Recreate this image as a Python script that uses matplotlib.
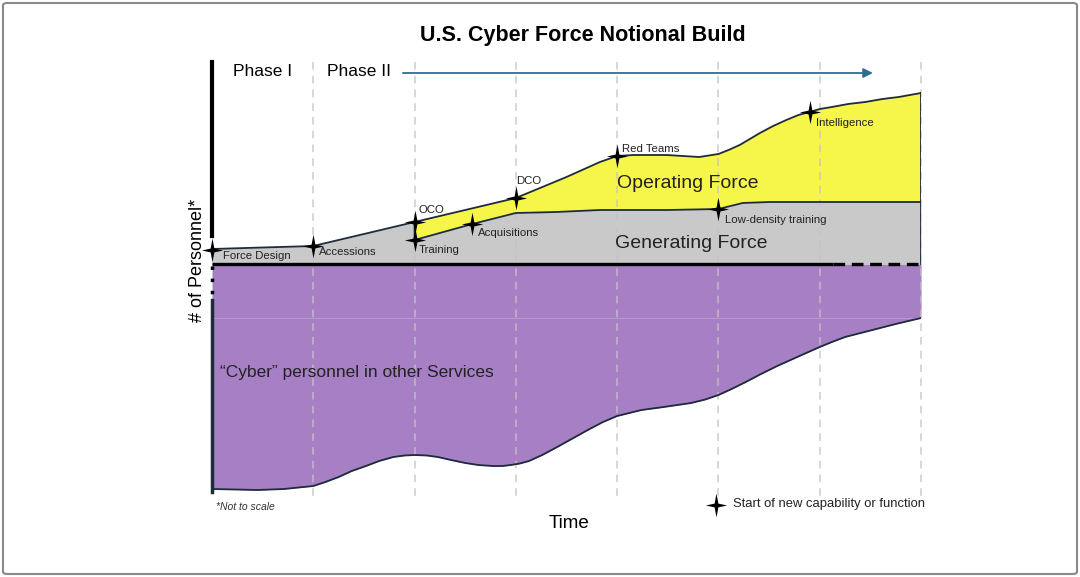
import numpy as np
import matplotlib
matplotlib.use("Agg")
import matplotlib.pyplot as plt
from matplotlib.patches import FancyBboxPatch

plt.rcParams["font.family"] = ["Liberation Sans", "DejaVu Sans"]

# time in phase steps (dashed lines at each integer), personnel in notional units
gen_x = [0.0, 1.0, 2.0, 2.0, 2.57, 3.0, 3.4, 3.83, 4.5, 5.0, 5.12, 5.24, 5.5, 7.0]
gen_y = [15, 18, 42, 24, 40, 51, 52, 54, 54, 55, 58, 61, 62, 62]

op_x = [2.0, 3.0, 3.5, 3.83, 4.0, 4.16, 4.49, 4.81, 5.0, 5.1, 5.21, 5.31, 5.41, 5.54,
        5.67, 5.79, 5.9, 6.0, 6.12, 6.28, 6.45, 6.62, 6.78, 7.0]
op_y = [42, 66, 87, 102, 108, 109, 109, 107, 110, 114, 119, 125, 131, 138,
        144, 149, 152, 155, 157, 160, 162, 165, 167, 171]

svc_x = [0.0, 0.45, 0.71, 1.0, 1.12, 1.25, 1.38, 1.52, 1.65, 1.79, 1.9, 2.0, 2.12, 2.23,
         2.36, 2.5, 2.63, 2.77, 2.87, 2.95, 3.04, 3.13, 3.26, 3.39, 3.55, 3.71, 3.86,
         4.0, 4.12, 4.24, 4.46, 4.73, 4.87, 5.0, 5.13, 5.27, 5.42, 5.58, 5.8, 6.0, 6.12,
         6.25, 6.52, 6.75, 7.0]
svc_y = [-225, -226, -225, -222, -218, -213, -207, -202, -197, -193, -191.5, -191, -191.5, -193,
         -196, -199, -201, -202, -202, -201, -199.5, -197, -191, -184, -175, -166, -158,
         -152, -149, -146, -143, -139, -135.5, -131, -125, -118, -110, -102, -92, -83, -78,
         -73, -66, -60, -54]

star_names = ["Force Design", "Accessions", "OCO", "Training", "Acquisitions",
              "DCO", "Red Teams", "Low-density training", "Intelligence"]
star_x = [0.0, 1.0, 2.0, 2.0, 2.57, 3.0, 4.0, 5.0, 5.9]
star_y = [14, 18, 42, 24, 40, 66, 108, 55, 152]
# label offsets from the star, in pixels (dx right, dy down)
star_off = [(11, 6), (6, 6), (4, -12), (4, 10), (6, 9), (0, -17), (5, -7), (7, 11), (6, 11)]

phases = ["Phase I", "Phase II"]

PX = 101.3  # pixels per time step


def px2x(px):
    return (px - 212) / PX


def px2y(py):
    return 264 - py


fig = plt.figure(figsize=(10.8, 5.77), dpi=100)
ax = fig.add_axes([212 / 1080, (577 - 510) / 577, 709 / 1080, 460 / 577])
ax.set_xlim(0, 7)
ax.set_ylim(px2y(510), px2y(50))
ax.axis("off")

edge = "#1d2b3a"
ax.fill_between(svc_x, svc_y, 0, color="#a67fc5", lw=0, zorder=1)
ax.plot(svc_x, svc_y, color=edge, lw=1.3, zorder=3, solid_joinstyle="round")
ax.axhline(px2y(318), xmin=0, xmax=1, color="#b898d2", lw=0.8, zorder=1.5)

ax.fill_between(gen_x, gen_y, 0, color="#c9c9c9", lw=0, zorder=1)
ax.plot(gen_x, gen_y, color=edge, lw=1.3, zorder=3, solid_joinstyle="round")

gi = gen_x.index(2.0) + 1
ox = np.r_[op_x, gen_x[gi:][::-1]]
oy = np.r_[op_y, gen_y[gi:][::-1]]
ax.fill(ox, oy, color="#f6f64a", lw=0, zorder=1)
ax.plot(op_x, op_y, color=edge, lw=1.3, zorder=3, solid_joinstyle="round")
ax.plot([2, 2], [gen_y[gi], op_y[0]], color=edge, lw=1.3, zorder=3)
ax.plot([7, 7], [0, op_y[-1]], color=edge, lw=1.3, zorder=3)

# grid of time steps
for t in range(1, 8):
    ax.plot([t, t], [px2y(62), px2y(497)], color="#c4c4c4", lw=1.1,
            ls=(0, (5, 4)), alpha=0.85, zorder=2, clip_on=False)

# baseline
ax.plot([0, px2x(833)], [0, 0], color="black", lw=2.4, zorder=4, solid_capstyle="butt")
ax.plot([px2x(833), 7], [0, 0], color="black", lw=2.4, ls=(0, (3.5, 2)), zorder=4)

# broken vertical axis
ax.plot([0, 0], [px2y(62), px2y(236)], color="black", lw=3, zorder=5, clip_on=False)
ax.plot([0, 0], [px2y(266), px2y(298)], color="black", lw=2.5, ls=(0, (1, 2.5)), zorder=5,
        clip_on=False)
ax.plot([0, 0], [px2y(300), px2y(492)], color="#1d2b3a", lw=2.5, zorder=5, clip_on=False)

w = 0.16
h = 0.9
star = [(0, 1), (w, w), (h, 0), (w, -w), (0, -1), (-w, -w), (-h, 0), (-w, w), (0, 1)]
ax.plot(star_x, star_y, ls="none", marker=star, ms=17, color="black", mew=0, zorder=6,
        clip_on=False)
for name, x, y, (dx, dy) in zip(star_names, star_x, star_y, star_off):
    ax.annotate(name, (x, y), xytext=(dx * 0.72, -dy * 0.72), textcoords="offset points",
                fontsize=8.2, color="#222222", va="center", ha="left", zorder=7)

ax.text(px2x(617), px2y(183), "Operating Force", fontsize=14, color="#222222",
        va="center", ha="left", zorder=7)
ax.text(px2x(615), px2y(243), "Generating Force", fontsize=14, color="#222222",
        va="center", ha="left", zorder=7)
ax.text(px2x(220), px2y(373), "\u201cCyber\u201d personnel in other Services", fontsize=12.5,
        color="#222222", va="center", ha="left", zorder=7)

ax.text(px2x(233), px2y(72), phases[0], fontsize=12.5, va="center", ha="left")
ax.text(px2x(327), px2y(72), phases[1], fontsize=12.5, va="center", ha="left")
ax.annotate("", xy=(px2x(873), px2y(73)), xytext=(px2x(403), px2y(73)),
            arrowprops=dict(arrowstyle="-|>", color="#2e6f8e", lw=1.3,
                            mutation_scale=14, shrinkA=0, shrinkB=0))

ax.text(px2x(216), px2y(507), "*Not to scale", fontsize=7.5, style="italic",
        color="#333333", va="center", ha="left")
ax.text(px2x(569), px2y(524), "Time", fontsize=13.5, va="center", ha="center")
ax.plot([px2x(716)], [px2y(505)], ls="none", marker=star, ms=17, color="black", mew=0,
        clip_on=False)
ax.text(px2x(733), px2y(504), "Start of new capability or function", fontsize=9.4,
        color="#222222", va="center", ha="left")

fig.text(197 / 1080, 1 - 260 / 577, "# of Personnel*", rotation=90, fontsize=13,
         va="center", ha="center")
fig.text(583 / 1080, 1 - 35 / 577, "U.S. Cyber Force Notional Build", fontsize=15.5,
         fontweight="bold", va="center", ha="center")

frame = FancyBboxPatch((3 / 1080, 3 / 577), 1074 / 1080, 571 / 577,
                       boxstyle="round,pad=0,rounding_size=0.004", transform=fig.transFigure,
                       fill=False, ec="#8a8a8a", lw=1.5)
fig.patches.append(frame)

fig.savefig("out.png", dpi=100)
